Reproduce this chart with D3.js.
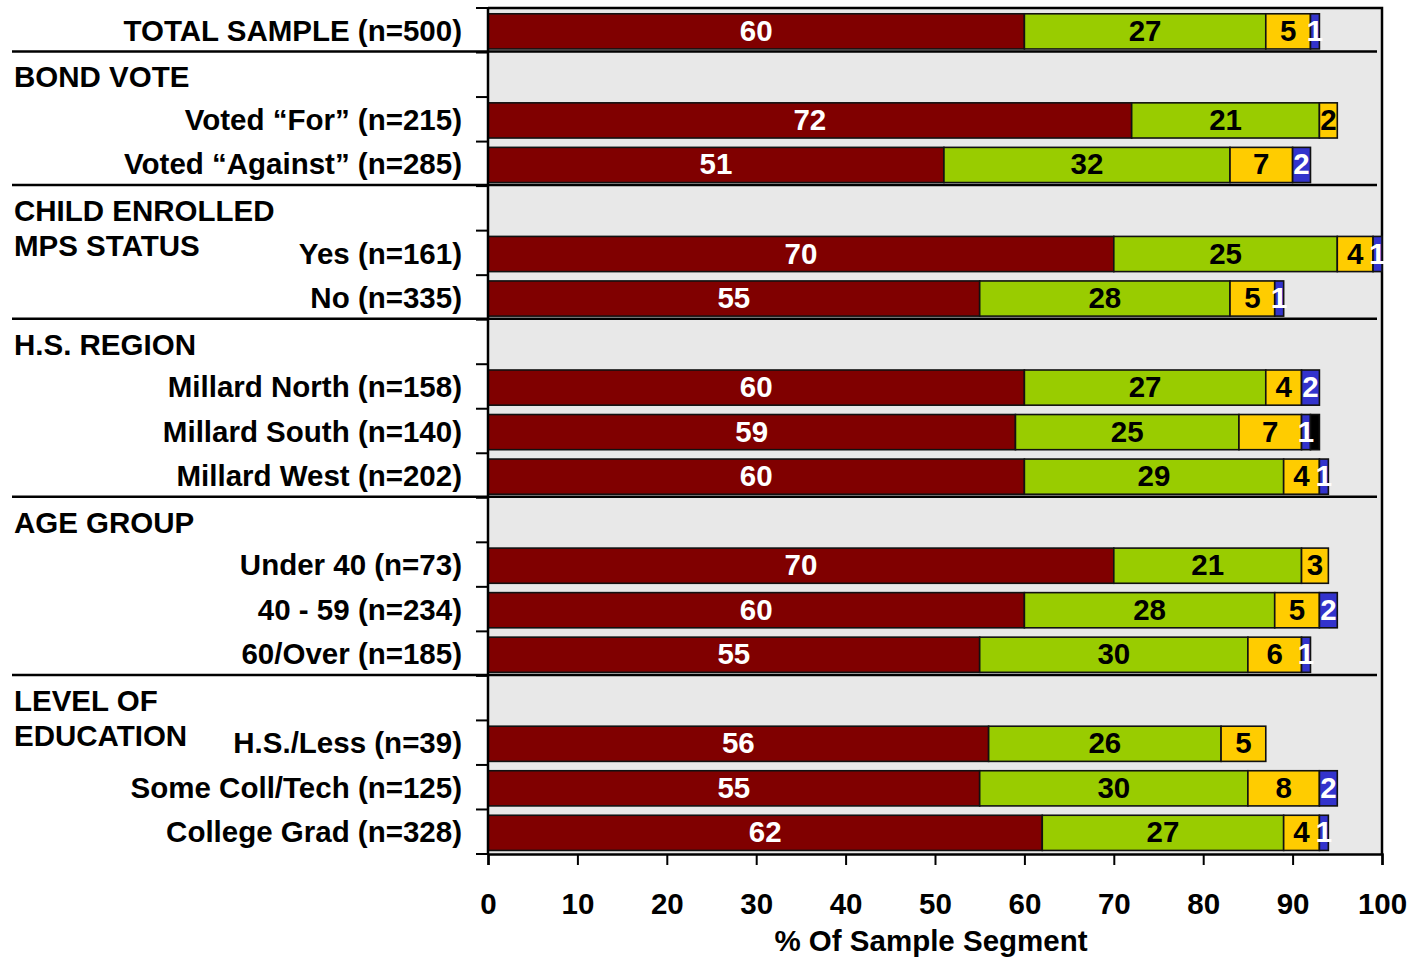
<!DOCTYPE html>
<html>
<head>
<meta charset="utf-8">
<script src="https://cdn.jsdelivr.net/npm/d3@7"></script>
<style>
  html, body { margin: 0; padding: 0; background: #fff; }
  svg { display: block; font-family: "Liberation Sans", Arial, sans-serif; font-weight: bold; }
</style>
</head>
<body>
<svg id="chart" width="1414" height="957"></svg>
<script>
// Segment labels, top to bottom
const categories = [
  "TOTAL SAMPLE (n=500)",
  "Voted \u201cFor\u201d (n=215)", "Voted \u201cAgainst\u201d (n=285)",
  "Yes (n=161)", "No (n=335)",
  "Millard North (n=158)", "Millard South (n=140)", "Millard West (n=202)",
  "Under 40 (n=73)", "40 - 59 (n=234)", "60/Over (n=185)",
  "H.S./Less (n=39)", "Some Coll/Tech (n=125)", "College Grad (n=328)"
];

// Group headings and the index of the first category each one introduces
const groupTitles = [["BOND VOTE"], ["CHILD ENROLLED", "MPS STATUS"], ["H.S. REGION"], ["AGE GROUP"], ["LEVEL OF", "EDUCATION"]];
const groupStarts = [1, 3, 5, 8, 11];

// Stacked percentages per segment
const seriesKeys = ["first", "second", "third", "fourth", "fifth"];
const firstValues  = [60, 72, 51, 70, 55, 60, 59, 60, 70, 60, 55, 56, 55, 62];
const secondValues = [27, 21, 32, 25, 28, 27, 25, 29, 21, 28, 30, 26, 30, 27];
const thirdValues  = [5, 2, 7, 4, 5, 4, 7, 4, 3, 5, 6, 5, 8, 4];
const fourthValues = [1, 0, 2, 1, 1, 2, 1, 1, 0, 2, 1, 0, 2, 1];
const fifthValues  = [0, 0, 0, 0, 0, 0, 1, 0, 0, 0, 0, 0, 0, 0];

const xTicks = [0, 10, 20, 30, 40, 50, 60, 70, 80, 90, 100];
const xTitle = "% Of Sample Segment";

const colors = ["#800000", "#99cc00", "#ffcc00", "#3333cc", "#000000"];
// the fifth (black) segment carries no readable label
const labelColors = ["#ffffff", "#000000", "#000000", "#ffffff", null];

// Build rows: a heading row precedes each group
const rows = [];
categories.forEach((c, i) => {
  const g = groupStarts.indexOf(i);
  if (g >= 0) rows.push("group-" + g);
  rows.push(c);
});

const table = categories.map((c, i) => ({
  category: c,
  first: firstValues[i], second: secondValues[i], third: thirdValues[i],
  fourth: fourthValues[i], fifth: fifthValues[i]
}));
const stacked = d3.stack().keys(seriesKeys)(table);

const svg = d3.select("#chart");
const plot = { left: 488, right: 1382, top: 8, bottom: 854 };
const fontSize = 29.5;

const x = d3.scaleLinear().domain([0, 100]).range([plot.left, plot.right]);
const y = d3.scaleBand().domain(rows).range([plot.top, plot.bottom]).paddingInner(0).paddingOuter(0);
const step = y.step();
const barOffset = step * 0.13, barH = step * 0.79;
const textY = r => y(r) + step / 2;

// plot background
svg.append("rect")
  .attr("x", plot.left).attr("y", plot.top)
  .attr("width", plot.right - plot.left).attr("height", plot.bottom - plot.top)
  .attr("fill", "#e8e8e8");

// frame: top and right edges
svg.append("path")
  .attr("d", `M${plot.left},${plot.top}H${plot.right}V${plot.bottom}`)
  .attr("fill", "none").attr("stroke", "#000").attr("stroke-width", 2.5);

// stacked bars
const layers = svg.append("g").selectAll("g").data(stacked).join("g")
  .attr("fill", (d, i) => colors[i]);
layers.selectAll("rect").data(d => d.filter(s => s[1] - s[0] > 0)).join("rect")
  .attr("x", d => x(d[0]))
  .attr("y", d => y(d.data.category) + barOffset)
  .attr("width", d => x(d[1]) - x(d[0]))
  .attr("height", barH)
  .attr("stroke", "#111").attr("stroke-width", 1.6);

// value labels
stacked.forEach((layer, i) => {
  if (!labelColors[i]) return;
  svg.append("g").selectAll("text").data(layer.filter(s => s[1] - s[0] > 0)).join("text")
    .attr("x", d => (x(d[0]) + x(d[1])) / 2)
    .attr("y", d => textY(d.data.category))
    .attr("dy", "0.36em")
    .attr("text-anchor", "middle")
    .attr("font-size", fontSize)
    .attr("fill", labelColors[i])
    .text(d => d[1] - d[0]);
});

// group separators
svg.append("g").selectAll("line").data(groupStarts.map((s, g) => "group-" + g)).join("line")
  .attr("x1", 12).attr("x2", 1377)
  .attr("y1", d => y(d) - 1).attr("y2", d => y(d) - 1)
  .attr("stroke", "#000").attr("stroke-width", 2.5);

// left axis: line plus ticks at row boundaries
const bounds = rows.map(r => y(r)).concat([plot.bottom]);
svg.append("line")
  .attr("x1", plot.left).attr("x2", plot.left)
  .attr("y1", plot.top).attr("y2", plot.bottom)
  .attr("stroke", "#000").attr("stroke-width", 2.5);
svg.append("g").selectAll("line").data(bounds).join("line")
  .attr("x1", plot.left - 12).attr("x2", plot.left)
  .attr("y1", d => d).attr("y2", d => d)
  .attr("stroke", "#000").attr("stroke-width", 2);

// category labels
svg.append("g").selectAll("text").data(categories).join("text")
  .attr("x", 462)
  .attr("y", d => textY(d))
  .attr("dy", "0.36em")
  .attr("text-anchor", "end")
  .attr("font-size", fontSize)
  .attr("fill", "#000")
  .text(d => d);

// group headings
groupTitles.forEach((lines, g) => {
  const cy = textY("group-" + g) + 2;
  svg.append("g").selectAll("text").data(lines).join("text")
    .attr("x", 14)
    .attr("y", (d, i) => cy + i * 35)
    .attr("dy", "0.36em")
    .attr("font-size", fontSize)
    .attr("fill", "#000")
    .text(d => d);
});

// bottom axis
const xAxis = svg.append("g")
  .attr("transform", `translate(0,${plot.bottom})`)
  .call(d3.axisBottom(x).tickValues(xTicks).tickSize(11).tickPadding(28).tickFormat(d3.format("d")));
xAxis.select(".domain").attr("stroke", "#000").attr("stroke-width", 2.5);
xAxis.selectAll(".tick line").attr("stroke", "#000").attr("stroke-width", 2);
xAxis.selectAll(".tick text")
  .attr("fill", "#000")
  .attr("font-size", fontSize)
  .attr("font-weight", "bold")
  .attr("font-family", "'Liberation Sans', Arial, sans-serif");

svg.append("text")
  .attr("x", (plot.left + plot.right) / 2 - 4)
  .attr("y", 951)
  .attr("text-anchor", "middle")
  .attr("font-size", fontSize)
  .attr("fill", "#000")
  .text(xTitle);
</script>
</body>
</html>
